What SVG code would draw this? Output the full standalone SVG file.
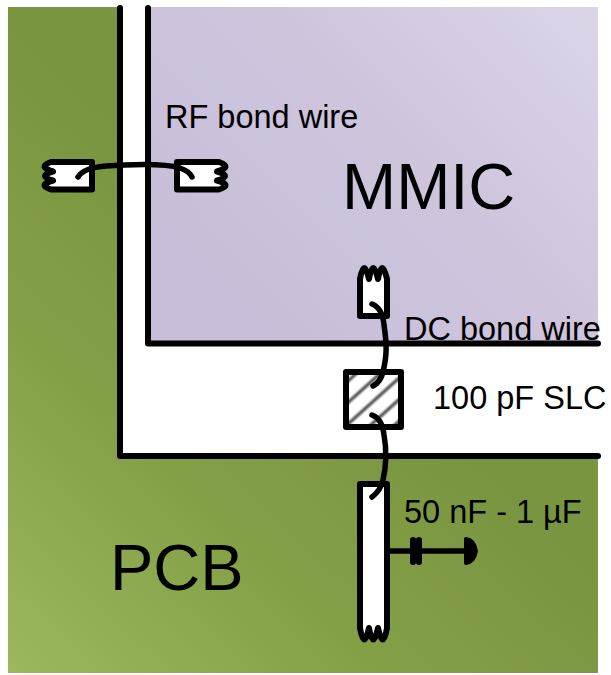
<svg xmlns="http://www.w3.org/2000/svg" width="611" height="675" viewBox="0 0 611 675">
<style>
.l{fill:none;stroke:#000;stroke-width:6;stroke-linecap:round;stroke-linejoin:round}
.p{fill:#fff;stroke:#000;stroke-width:6;stroke-linejoin:round;stroke-linecap:round}
.w{fill:none;stroke:#000;stroke-width:5.500;stroke-linecap:round}
text{font-family:"Liberation Sans",Arial,sans-serif;fill:#000}
.s{font-size:32.500px}
.b{font-size:65px}
</style>
<defs>
<linearGradient id="g" gradientUnits="userSpaceOnUse" x1="8" y1="673" x2="330" y2="330">
<stop offset="0" stop-color="#9cb85c"/><stop offset="0.55" stop-color="#84a047"/><stop offset="1" stop-color="#7a9540"/>
</linearGradient>
<linearGradient id="m" gradientUnits="userSpaceOnUse" x1="250" y1="343" x2="598" y2="7">
<stop offset="0" stop-color="#c7bdd8"/><stop offset="0.5" stop-color="#cec5dd"/><stop offset="1" stop-color="#dcd4e7"/>
</linearGradient>
<linearGradient id="st" x1="0" y1="0" x2="0" y2="1">
<stop offset="0" stop-color="#fff"/><stop offset="0.5" stop-color="#444"/><stop offset="1" stop-color="#fff"/>
</linearGradient>
<pattern id="h" patternUnits="userSpaceOnUse" width="14" height="16" patternTransform="translate(346 372) rotate(-42)">
<rect width="14" height="16" fill="#fff"/><rect y="5" width="14" height="6" fill="url(#st)"/>
</pattern>
</defs>
<g id="pcb"><rect x="8" y="7" width="590" height="666" fill="url(#g)"/><text class="b" x="110" y="590">PCB</text></g>
<g id="gap"><path d="M120 7H148V343H598V456H120Z" fill="#fff"/></g>
<g id="mmic"><rect x="148" y="7" width="450" height="336" fill="url(#m)"/><text class="b" x="342" y="209">MMIC</text></g>
<g id="edges"><path class="l" d="M120 8V456H598"/><path class="l" d="M148 8V343.500H598"/></g>
<g id="rf-pad-left"><path class="p" d="M92 162V189.500H51Q37 185 53 180.500Q37 176 53 171.500Q37 167 51 162Z"/></g>
<g id="rf-pad-right"><path class="p" d="M177 162V189.500H219Q233 185 217 180.500Q233 176 217 171.500Q233 167 219 162Z"/></g>
<g id="dc-pad"><path class="p" d="M360 316V279Q364 257 369 279Q373 257 378 279Q382 257 387 279V316Z"/></g>
<g id="slc"><rect x="346" y="372" width="55" height="55" fill="url(#h)" stroke="#000" stroke-width="6" stroke-linejoin="round"/></g>
<g id="line-pad"><path class="p" d="M360 484H387V628Q383 651 378 628Q373 651 369 628Q364 651 360 628Z"/></g>
<g id="capacitor"><path class="l" style="stroke-width:5.500" d="M390 551H470"/><path class="l" d="M413 540V562M419 540V562"/><path d="M466 539Q474 540 476 551Q474 562 466 563Z" fill="#000" stroke="#000" stroke-width="4" stroke-linejoin="round"/></g>
<g id="connectors">
<path class="w" d="M78 177C84 167 100 166 125 165C150 164 170 165 180 168C186 170 190 173 192 177"/>
<path class="w" d="M372 304C380 307 383 314 384 325C387 345 387 355 383 372C381 380 377 384 373 386"/>
<path class="w" d="M372 415C380 418 383 425 384 435C387 450 386 468 383 480C381 489 376 494 372 497"/>
</g>
<g id="labels">
<text class="s" x="165" y="128">RF bond wire</text>
<text class="s" x="404" y="340">DC bond wire</text>
<text class="s" x="433" y="409">100 pF SLC</text>
<text class="s" x="404" y="523">50 nF - 1 µF</text>
</g>
</svg>
